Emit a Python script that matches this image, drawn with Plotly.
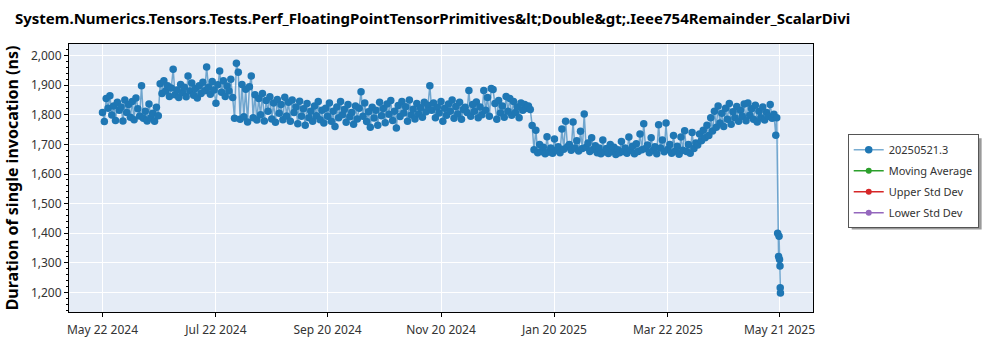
import pandas as pd
import plotly.graph_objects as go

# Daily benchmark results (ns), one per day starting 2024-05-22
start_date = "2024-05-22"
daily_ns = [
    # May 22 - Jun 21 2024
    1808, 1777, 1855, 1822, 1864, 1799, 1830, 1781, 1842, 1815, 1826, 1779, 1850, 1808, 1835, 1792,
    1845, 1783, 1857, 1820, 1796, 1898, 1788, 1812, 1779, 1836, 1790, 1805, 1778, 1825, 1797,
    # Jun 22 - Jul 31 2024
    1905, 1872, 1915, 1880, 1898, 1862, 1890, 1954, 1868, 1884, 1858, 1902, 1875, 1893, 1861, 1931,
    1880, 1907, 1866, 1889, 1857, 1898, 1872, 1910, 1881, 1961, 1893, 1869, 1912, 1884, 1839, 1901,
    1948, 1876, 1915, 1862, 1897, 1880, 1920, 1858,
    # Aug 1 - Sep 19 2024
    1788, 1974, 1944, 1785, 1902, 1793, 1886, 1776, 1895, 1931, 1790, 1868, 1782, 1855, 1800, 1872,
    1779, 1848, 1812, 1861, 1786, 1840, 1775, 1852, 1805, 1835, 1783, 1859, 1796, 1842, 1778, 1850,
    1808, 1826, 1770, 1846, 1795, 1820, 1765, 1838, 1790, 1812, 1778, 1830, 1797, 1845, 1783, 1815,
    1772, 1822,
    # Sep 20 - Nov 13 2024
    1795, 1840, 1778, 1812, 1760, 1826, 1790, 1845, 1800, 1818, 1775, 1835, 1793, 1808, 1768, 1830,
    1786, 1822, 1878, 1795, 1840, 1777, 1810, 1758, 1825, 1789, 1815, 1765, 1842, 1797, 1821, 1773,
    1836, 1802, 1848, 1781, 1812, 1755, 1831, 1794, 1845, 1806, 1827, 1778, 1850, 1799, 1819, 1786,
    1838, 1803, 1824, 1792, 1842, 1810, 1832,
    # Nov 14 2024 - Jan 7 2025
    1898, 1815, 1840, 1790, 1825, 1806, 1845, 1778, 1822, 1798, 1836, 1812, 1850, 1788, 1828, 1803,
    1842, 1785, 1818, 1825, 1808, 1882, 1795, 1835, 1812, 1843, 1790, 1826, 1800, 1882, 1815, 1858,
    1795, 1889, 1885, 1838, 1785, 1848, 1806, 1830, 1792, 1862, 1812, 1855, 1798, 1845, 1808, 1826,
    1790, 1840, 1815, 1835, 1822, 1830, 1818,
    # Jan 8 - Apr 17 2025
    1764, 1682, 1748, 1672, 1700, 1676, 1690, 1668, 1726, 1674, 1688, 1670, 1718, 1680, 1692, 1672,
    1752, 1684, 1778, 1692, 1700, 1680, 1776, 1688, 1712, 1678, 1744, 1686, 1803, 1690, 1705, 1676,
    1722, 1684, 1695, 1672, 1688, 1668, 1715, 1675, 1686, 1669, 1700, 1676, 1690, 1666, 1682, 1672,
    1710, 1676, 1688, 1670, 1725, 1680, 1694, 1668, 1702, 1676, 1735, 1682, 1770, 1686, 1698, 1672,
    1722, 1680, 1692, 1668, 1766, 1688, 1715, 1675, 1772, 1684, 1700, 1670, 1730, 1678, 1694, 1667,
    1725, 1680, 1746, 1676, 1700, 1670, 1740, 1686, 1705, 1698, 1735, 1712, 1748, 1722, 1765, 1730,
    1790, 1745, 1812, 1758,
    # Apr 18 - May 18 2025
    1830, 1772, 1805, 1760, 1822, 1785, 1838, 1768, 1810, 1790, 1828, 1778, 1815, 1795, 1836, 1780,
    1840, 1798, 1820, 1785, 1832, 1776, 1812, 1790, 1826, 1782, 1808, 1795, 1835, 1788, 1802,
]

# Final builds, several per day
tail_times = [
    "2025-05-19 00:00", "2025-05-19 12:00", "2025-05-20 00:00", "2025-05-20 12:00",
    "2025-05-20 18:00", "2025-05-21 00:00", "2025-05-21 06:00", "2025-05-21 09:00",
    "2025-05-21 12:00",
]
tail_ns = [1731, 1790, 1400, 1321, 1390, 1311, 1289, 1216, 1198]

tick_dates = ["2024-05-22", "2024-07-22", "2024-09-20", "2024-11-20",
              "2025-01-20", "2025-03-22", "2025-05-21"]
tick_text = ["May 22 2024", "Jul 22 2024", "Sep 20 2024", "Nov 20 2024",
             "Jan 20 2025", "Mar 22 2025", "May 21 2025"]
y_ticks = [1200, 1300, 1400, 1500, 1600, 1700, 1800, 1900, 2000]

series_name = "20250521.3"
legend_names = ["Moving Average", "Upper Std Dev", "Lower Std Dev"]
legend_colors = ["#2ca02c", "#d62728", "#9467bd"]

dates = list(pd.date_range(start_date, periods=len(daily_ns), freq="D")) + list(pd.to_datetime(tail_times))
values = daily_ns + tail_ns

FONT = "Noto Sans"

fig = go.Figure()
fig.add_trace(go.Scatter(
    x=dates, y=values, mode="lines+markers", name=series_name, legendgroup="g0",
    line=dict(color="rgba(31,119,180,0.6)", width=1.5),
    marker=dict(color="#1f77b4", size=7.5),
))
for i, (nm, col) in enumerate(zip(legend_names, legend_colors)):
    fig.add_trace(go.Scatter(
        x=[None], y=[None], mode="lines+markers", name=nm, legendgroup=f"g{i + 1}",
        line=dict(color=col, width=1.5), marker=dict(color=col, size=6),
    ))

# Plot area in pixels: x 63..813, y 44..320
L, R, T, B = 63, 813, 44, 320
W, H = R - L, B - T

def px(x):
    return (x - L) / W

def py(y):
    return (B - y) / H

# legend drop shadow
fig.add_shape(type="rect", xref="paper", yref="paper",
              x0=px(852), x1=px(983), y0=py(235), y1=py(141),
              fillcolor="#9a9a9a", line=dict(width=0), layer="below")

fig.update_layout(
    width=1000, height=350,
    margin=dict(l=L, r=1000 - R, t=T, b=350 - B),
    paper_bgcolor="white", plot_bgcolor="#E5ECF6",
    font=dict(family=FONT, size=12, color="#333333"),
    title=dict(
        text="System.Numerics.Tensors.Tests.Perf_FloatingPointTensorPrimitives&amp;lt;Double&amp;gt;.Ieee754Remainder_ScalarDivi",
        x=15 / 1000, xanchor="left", y=1 - 19 / 350, yanchor="middle",
        font=dict(family=FONT, size=15, color="black", weight="bold"),
    ),
    showlegend=True,
    legend=dict(
        x=px(848), xanchor="left", y=py(137), yanchor="top",
        bgcolor="white", bordercolor="#555555", borderwidth=1,
        font=dict(family=FONT, size=11, color="#333333"),
        tracegroupgap=2,
    ),
    xaxis=dict(
        type="date",
        range=["2024-05-04", "2025-06-08"],
        tickvals=pd.to_datetime(tick_dates), ticktext=tick_text,
        showgrid=True, gridcolor="white", gridwidth=1,
        showline=True, linecolor="black", linewidth=1, mirror=True,
        ticks="outside", ticklen=4, tickcolor="black", ticklabelstandoff=3,
        zeroline=False,
    ),
    yaxis=dict(
        range=[1134, 2039],
        tickvals=y_ticks, tickformat=",d",
        title=dict(text="Duration of single invocation (ns)",
                   font=dict(family=FONT, size=16, color="black", weight="bold"), standoff=8),
        showgrid=True, gridcolor="white", gridwidth=1,
        showline=True, linecolor="black", linewidth=1, mirror=True,
        ticks="outside", ticklen=4, tickcolor="black",
        minor=dict(dtick=20, ticks="outside", ticklen=2, tickcolor="black", showgrid=False),
        zeroline=False,
    ),
)

fig.write_html("out.html")
